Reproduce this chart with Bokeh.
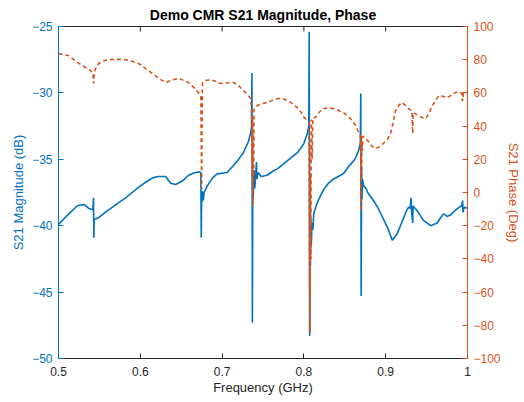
import math
from bokeh.plotting import figure
from bokeh.models import Range1d, LinearAxis, FixedTicker, CustomJSTickFormatter
from bokeh.embed import file_html
from bokeh.resources import INLINE

# ---- data ----
freq_mag = [0.500, 0.511, 0.523, 0.531, 0.537, 0.542, 0.5428, 0.5432, 0.5436, 0.545, 0.549, 0.557, 0.566, 0.574,
            0.582, 0.590, 0.598, 0.606, 0.615, 0.622, 0.631, 0.637, 0.643, 0.648, 0.652, 0.659, 0.667, 0.672,
            0.674, 0.6745, 0.675, 0.6755, 0.676, 0.677, 0.678, 0.682, 0.686, 0.690, 0.694, 0.700, 0.706, 0.712,
            0.719, 0.726, 0.732, 0.735, 0.736, 0.7365, 0.737, 0.7375, 0.738, 0.739, 0.740, 0.741, 0.742, 0.7425,
            0.744, 0.748, 0.755, 0.762, 0.768, 0.774, 0.780, 0.786, 0.792, 0.797, 0.800, 0.804, 0.806, 0.8065,
            0.807, 0.8075, 0.808, 0.8085, 0.809, 0.810, 0.811, 0.812, 0.815, 0.819, 0.824, 0.830, 0.836, 0.842,
            0.848, 0.854, 0.861, 0.864, 0.867, 0.869, 0.8695, 0.870, 0.8705, 0.871, 0.8715, 0.873, 0.876, 0.878,
            0.885, 0.890, 0.894, 0.902, 0.908, 0.914, 0.918, 0.922, 0.926, 0.928, 0.930, 0.931, 0.9315, 0.933,
            0.9335, 0.936, 0.939, 0.946, 0.955, 0.963, 0.967, 0.971, 0.975, 0.979, 0.984, 0.988, 0.993, 0.994,
            0.9945, 0.996, 1.000]
mag_db = [-39.9, -39.2, -38.5, -38.4, -38.7, -38.8, -37.9, -40.9, -39.5, -39.5, -39.4, -39.0, -38.6, -38.25,
          -37.9, -37.5, -37.1, -36.75, -36.4, -36.3, -36.3, -36.8, -36.9, -36.75, -36.6, -36.2, -36.0, -35.95,
          -36.0, -40.9, -37.6, -38.2, -37.4, -38.1, -37.5, -37.0, -36.6, -36.3, -36.1, -36.05, -36.0, -35.6,
          -35.1, -34.5, -33.7, -33.0, -32.6, -28.5, -47.3, -36.0, -38.0, -35.8, -37.2, -36.3, -35.2, -36.5,
          -36.0, -36.3, -36.2, -35.9, -35.7, -35.4, -35.1, -34.8, -34.5, -34.1, -33.8, -33.1, -32.5, -25.4,
          -48.3, -40.0, -43.0, -39.5, -41.5, -39.8, -40.3, -39.1, -38.5, -37.9, -37.3, -36.8, -36.5, -36.3,
          -36.1, -35.6, -35.1, -34.8, -34.3, -33.8, -30.05, -45.3, -35.5, -38.0, -36.5, -37.0, -37.2, -37.5,
          -38.1, -38.6, -39.1, -40.1, -41.1, -40.6, -40.0, -39.4, -38.8, -38.6, -38.7, -37.9, -38.8, -39.8,
          -38.5, -38.7, -38.9, -39.6, -40.0, -39.8, -39.4, -39.1, -39.3, -39.2, -38.9, -38.7, -38.5, -38.1,
          -39.0, -38.6, -38.7]

freq_ph = [0.500, 0.512, 0.520, 0.529, 0.539, 0.542, 0.543, 0.5435, 0.546, 0.549, 0.555, 0.561, 0.572, 0.582,
           0.590, 0.598, 0.607, 0.615, 0.623, 0.631, 0.639, 0.647, 0.653, 0.659, 0.665, 0.671, 0.674, 0.675,
           0.6755, 0.676, 0.680, 0.686, 0.692, 0.698, 0.706, 0.714, 0.720, 0.726, 0.731, 0.735, 0.736, 0.7365,
           0.737, 0.7372, 0.7375, 0.738, 0.7385, 0.739, 0.743, 0.749, 0.755, 0.762, 0.768, 0.774, 0.780, 0.786,
           0.792, 0.797, 0.800, 0.804, 0.806, 0.8065, 0.807, 0.8072, 0.8075, 0.808, 0.8085, 0.809, 0.810, 0.811,
           0.814, 0.819, 0.824, 0.830, 0.836, 0.842, 0.848, 0.854, 0.859, 0.863, 0.866, 0.869, 0.8695, 0.870,
           0.8702, 0.8705, 0.871, 0.8715, 0.872, 0.875, 0.878, 0.883, 0.888, 0.892, 0.897, 0.902, 0.906, 0.909,
           0.912, 0.916, 0.920, 0.924, 0.928, 0.932, 0.933, 0.9335, 0.936, 0.940, 0.945, 0.949, 0.953, 0.957,
           0.961, 0.965, 0.970, 0.975, 0.980, 0.985, 0.990, 0.993, 0.994, 0.995, 1.000]
phase_deg = [83.7, 82.5, 79.5, 76.5, 73.5, 72.0, 65.7, 72.0, 75.5, 77.7, 79.3, 80.0, 80.2, 80.0,
             79.0, 77.7, 74.5, 71.7, 68.5, 66.3, 67.8, 68.7, 67.5, 66.3, 63.5, 60.2, 58.0, 2.0,
             40.0, 66.0, 67.5, 68.0, 67.0, 65.7, 66.0, 66.3, 64.5, 61.4, 59.0, 56.6, 50.0, 30.0,
             10.0, 45.0, -8.0, 35.0, 5.0, 50.0, 52.4, 53.5, 54.2, 55.5, 56.6, 56.5, 55.4, 53.5,
             51.2, 48.0, 45.2, 43.5, 42.0, 20.0, -60.0, 30.0, -85.0, 10.0, -40.0, 44.0, 20.0, 45.0,
             45.2, 48.5, 50.6, 51.0, 50.6, 49.5, 48.2, 46.0, 43.4, 40.5, 37.3, 35.0, 20.0, -11.0,
             34.0, 10.0, 30.0, 25.0, 34.0, 32.5, 31.3, 28.0, 26.5, 27.5, 29.5, 32.0, 35.5, 42.0,
             49.4, 52.5, 54.2, 52.5, 50.6, 49.0, 35.5, 48.0, 47.5, 46.4, 45.0, 44.6, 48.0, 52.4,
             55.5, 58.4, 58.0, 57.2, 58.5, 60.2, 60.5, 60.0, 55.0, 60.0, 60.2]

x_ticks = [0.5, 0.6, 0.7, 0.8, 0.9, 1.0]
mag_ticks = [-50, -45, -40, -35, -30, -25]
ph_ticks = [-100, -80, -60, -40, -20, 0, 20, 40, 60, 80, 100]
mag_top = -25

BLUE = "#0072BD"
ORANGE = "#D95319"
DARK = "#262626"
FONT = "Liberation Sans"

p = figure(width=524, height=402, output_backend="svg", toolbar_location=None,
           x_range=Range1d(0.5, 1.0), y_range=Range1d(-50, -25),
           min_border_left=58, min_border_right=57, min_border_top=26, min_border_bottom=44,
           title="Demo CMR S21 Magnitude, Phase")
p.extra_y_ranges = {"phase": Range1d(-100, 100)}
p.grid.visible = False
p.outline_line_color = DARK
p.background_fill_color = "white"
p.border_fill_color = "white"

p.title.align = "center"
p.title.text_font = FONT
p.title.text_font_size = "14px"
p.title.text_font_style = "bold"
p.title.text_color = "#000000"
p.title.standoff = 7

def style_axis(ax, color, tcolor):
    ax.axis_line_color = color
    ax.major_tick_line_color = color
    ax.major_tick_in = 5
    ax.major_tick_out = 0
    ax.minor_tick_line_color = None
    ax.major_label_text_color = tcolor
    ax.major_label_text_font = FONT
    ax.major_label_text_font_size = "12px"
    ax.axis_label_text_color = tcolor
    ax.axis_label_text_font = FONT
    ax.axis_label_text_font_size = "13px"
    ax.axis_label_text_font_style = "normal"

xa = p.xaxis[0]
xa.ticker = FixedTicker(ticks=x_ticks)
xa.formatter = CustomJSTickFormatter(code="return tick.toFixed(1).replace(/\\.0$/, '');")
xa.axis_label = "Frequency (GHz)"
style_axis(xa, DARK, DARK)
xa.major_label_standoff = 8
xa.axis_label_standoff = 1

ya = p.yaxis[0]
ya.ticker = FixedTicker(ticks=mag_ticks)
ya.axis_label = "S21 Magnitude (dB)"
style_axis(ya, BLUE, BLUE)
ya.major_label_standoff = 6
ya.axis_label_standoff = 3

ra = LinearAxis(y_range_name="phase", ticker=FixedTicker(ticks=ph_ticks), axis_label="S21 Phase (Deg)")
style_axis(ra, ORANGE, ORANGE)
ra.major_label_standoff = 6
ra.axis_label_standoff = 2
p.add_layout(ra, "right")

# inward tick marks on the top box edge (clipped half-dashes at the frame edge)
p.scatter(x_ticks, [mag_top] * len(x_ticks), marker="dash", angle=math.pi / 2, size=10,
          line_color=DARK, line_width=1)

p.line(freq_mag, mag_db, line_color=BLUE, line_width=1.6)
p.line(freq_ph, phase_deg, line_color=ORANGE, line_width=1.6, line_dash="4 3", y_range_name="phase")

open("out.html", "w").write(file_html(p, INLINE))
